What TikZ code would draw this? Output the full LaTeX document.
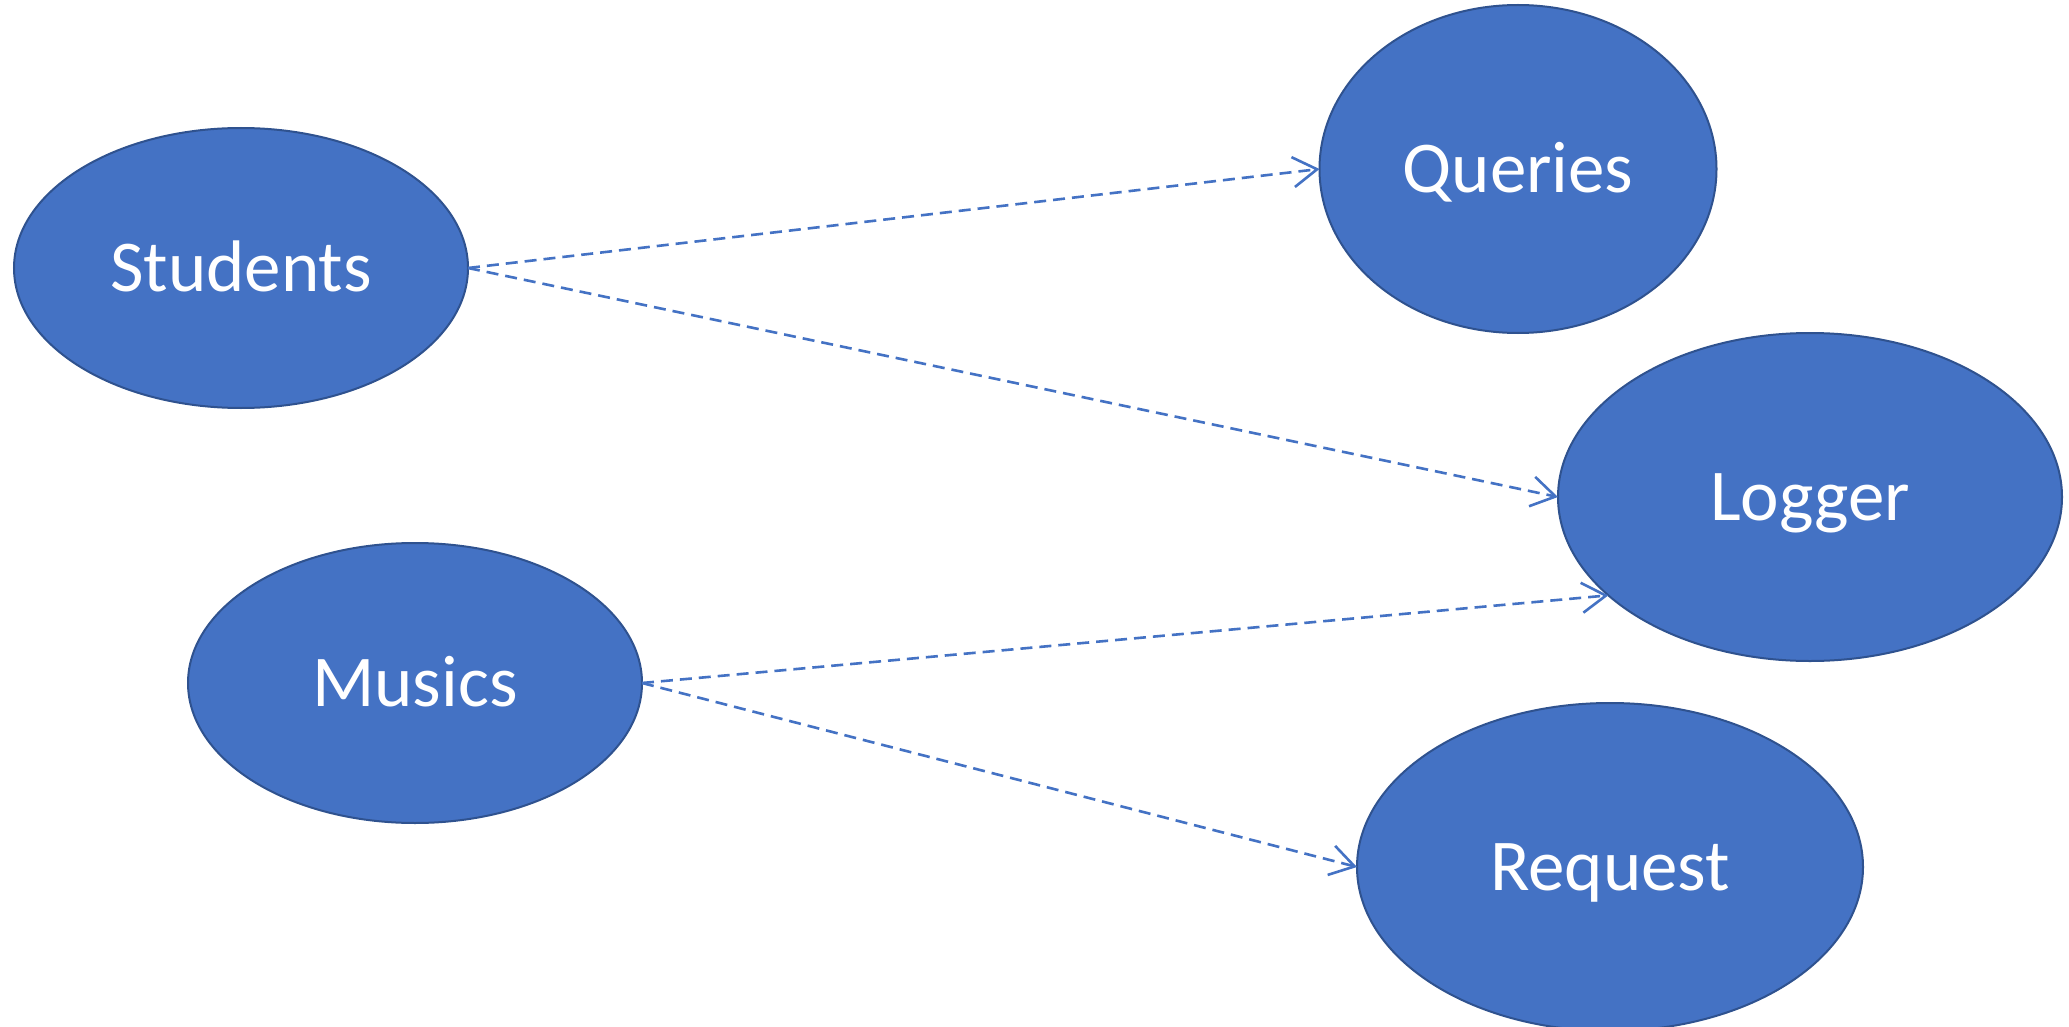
\documentclass[tikz,border=0pt]{standalone}
\usepackage{fontspec}
\setmainfont{Carlito}
\usetikzlibrary{arrows.meta,shapes.geometric}
\definecolor{accent}{HTML}{4472C4}
\definecolor{accentdark}{HTML}{2F528F}
\tikzset{
  entity/.style={ellipse, draw=accentdark, line width=2pt, fill=accent,
    text=white, inner sep=0pt, outer sep=0pt,
    font=\fontsize{73}{88}\selectfont, text height=47pt, text depth=0pt},
  depends/.style={accent, line width=2.6pt, dash pattern=on 12pt off 7pt,
    -{Straight Barb[length=24pt,width=30pt,line width=2.6pt]}}
}
\begin{document}
\begin{tikzpicture}[x=1pt,y=-1pt]
  \clip (0,0) rectangle (2069,1027);
  \fill[white] (0,0) rectangle (2069,1027);

  % use-case entities
  \node[entity, minimum width=454pt, minimum height=280pt] (students) at (241,268) {Students};
  \node[entity, minimum width=454pt, minimum height=280pt] (musics) at (415,683) {Musics};
  \node[entity, minimum width=397pt, minimum height=328pt] (queries) at (1518,169) {Queries};
  \node[entity, minimum width=504pt, minimum height=328pt] (logger) at (1810,497) {Logger};
  \node[entity, minimum width=506pt, minimum height=328pt] (request) at (1610,867) {Request};

  % dependencies
  \draw[depends] (students.east) -- (queries.west);
  \draw[depends] (students.east) -- (logger.west);
  \draw[depends] (musics.east) -- (logger.206);
  \draw[depends] (musics.east) -- (request.west);
\end{tikzpicture}
\end{document}
